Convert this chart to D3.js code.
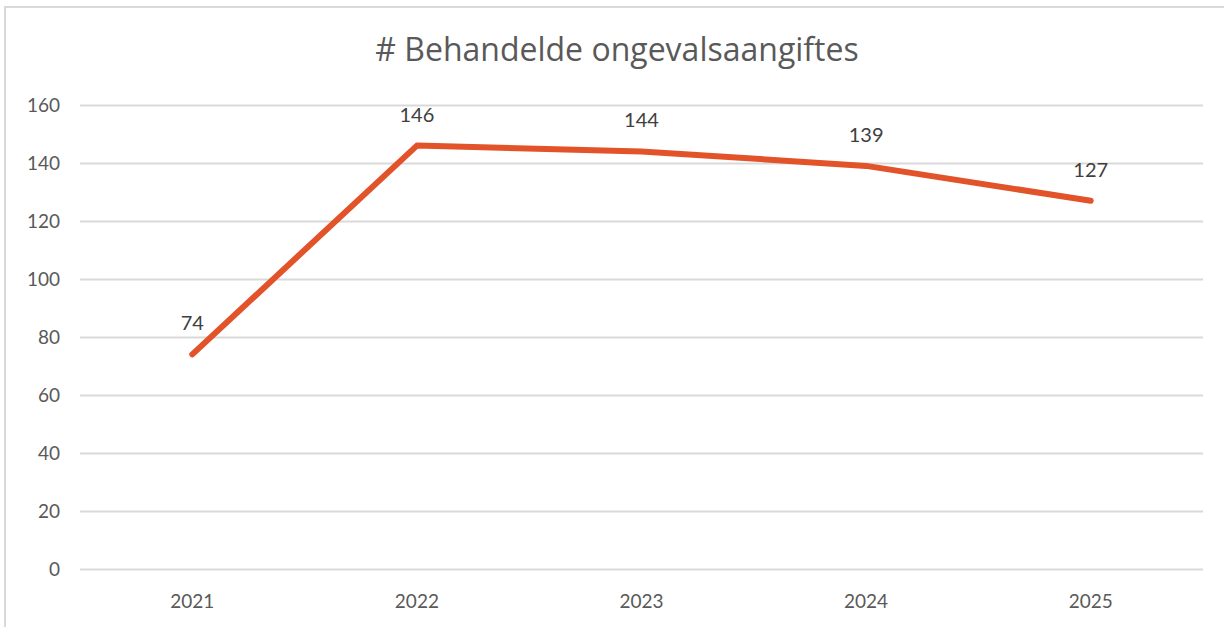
<!DOCTYPE html>
<html>
<head>
<meta charset="utf-8">
<script src="https://cdn.jsdelivr.net/npm/d3@7"></script>
<style>
  html, body { margin: 0; padding: 0; background: #fff; }
  svg { display: block; font-family: Lato, "Open Sans", sans-serif; }
</style>
</head>
<body>
<svg id="chart" width="1224" height="627"></svg>
<script>
"use strict";

// data
let years = ["2021", "2022", "2023", "2024", "2025"];
let counts = [74, 146, 144, 139, 127];
let yTicks = [0, 20, 40, 60, 80, 100, 120, 140, 160];
let title = "# Behandelde ongevalsaangiftes";

let svg = d3.select("#chart");
let width = +svg.attr("width");
let height = +svg.attr("height");

// plot area
let plotLeft = 80, plotRight = 1203, plotTop = 105, plotBottom = 569;

// chart frame (only top and left edges visible in the crop)
svg.append("path")
  .attr("d", `M5,${height} L5,7 L${width},7`)
  .attr("fill", "none")
  .attr("stroke", "#d9d9d9")
  .attr("stroke-width", 2);

let x = d3.scaleBand()
  .domain(years)
  .range([plotLeft, plotRight]);

let y = d3.scaleLinear()
  .domain([0, 160])
  .range([plotBottom, plotTop]);

// title
svg.append("text")
  .attr("x", 617)
  .attr("y", 61)
  .attr("text-anchor", "middle")
  .attr("fill", "#595959")
  .style("font-family", "'Open Sans', sans-serif")
  .style("font-size", "32px")
  .text(title);

// gridlines + y labels
let yAxis = svg.append("g")
  .attr("transform", `translate(${plotLeft},0)`)
  .call(d3.axisLeft(y).tickValues(yTicks).tickSize(-(plotRight - plotLeft)).tickPadding(20));
yAxis.select(".domain").remove();
yAxis.selectAll(".tick line")
  .attr("stroke", "#d9d9d9")
  .attr("stroke-width", 2);
yAxis.selectAll(".tick text")
  .attr("fill", "#595959")
  .style("font-size", "19px")
  .style("font-family", "Lato, sans-serif");

// x labels
let xAxis = svg.append("g")
  .attr("transform", `translate(0,${plotBottom})`)
  .call(d3.axisBottom(x).tickSize(0).tickPadding(26));
xAxis.select(".domain").remove();
xAxis.selectAll(".tick text")
  .attr("fill", "#595959")
  .style("font-size", "19px")
  .style("font-family", "Lato, sans-serif");

let points = years.map((yr, i) => ({ year: yr, value: counts[i] }));

// the line
let line = d3.line()
  .x(d => x(d.year) + x.bandwidth() / 2)
  .y(d => y(d.value));

svg.append("path")
  .datum(points)
  .attr("d", line)
  .attr("fill", "none")
  .attr("stroke", "#e2532a")
  .attr("stroke-width", 6)
  .attr("stroke-linecap", "round")
  .attr("stroke-linejoin", "round");

// value labels above each point
svg.selectAll(".val")
  .data(points)
  .enter()
  .append("text")
  .attr("class", "val")
  .attr("x", d => x(d.year) + x.bandwidth() / 2)
  .attr("y", d => y(d.value) - 24)
  .attr("text-anchor", "middle")
  .attr("fill", "#404040")
  .style("font-size", "20px")
  .text(d => d.value);
</script>
</body>
</html>
